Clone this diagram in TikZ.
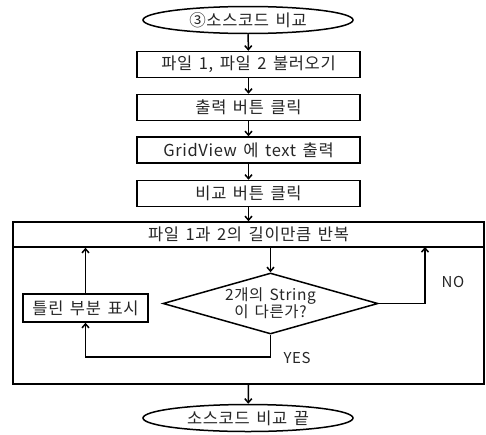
\documentclass[tikz,border=0pt]{standalone}
\usepackage{fontspec}
\setmainfont{Noto Sans CJK KR}[LetterSpace=4, WordSpace=1.5]
\usetikzlibrary{arrows.meta,shapes.geometric}
\begin{document}
\begin{tikzpicture}[x=1pt,y=-1pt,
  every node/.style={font=\fontsize{16.5}{19}\selectfont, text=black!85},
  proc/.style={draw=black, line width=1.5pt, minimum width=223pt, minimum height=26pt, inner sep=0pt},
  term/.style={draw=black, line width=1.5pt, ellipse, minimum width=210pt, minimum height=27pt, inner sep=0pt},
  arr/.style={draw=black, line width=1.5pt, -{Straight Barb[length=4pt,width=7pt,line width=1.5pt]}},
  lbl/.style={font=\fontsize{15}{18}\selectfont}
]
\useasboundingbox (0,0) rectangle (486,434);
\fill[white] (0,0) rectangle (486,434);

\node[term] (start) at (248,20) {③소스코드 비교};
\node[proc] (b1) at (248.5,64.5) {파일 1, 파일 2 불러오기};
\node[proc] (b2) at (248.5,107.5) {출력 버튼 클릭};
\node[proc] (b3) at (248.5,150) {GridView 에 text 출력};
\node[proc] (b4) at (248.5,193.5) {비교 버튼 클릭};

\node[draw=black, line width=1.5pt, minimum width=471pt, minimum height=162pt, inner sep=0pt] (loop) at (248.5,303) {};
\node[draw=black, line width=1.5pt, minimum width=471pt, minimum height=25pt, inner sep=0pt] (head) at (248.5,234.5) {파일 1과 2의 길이만큼 반복};

\node[draw=black, line width=1.5pt, diamond, shape aspect=3.5, minimum width=215pt, minimum height=61pt, inner sep=0pt, align=center, font=\fontsize{15.5}{17}\selectfont] (dia) at (270.5,303.5) {2개의 String\\이 다른가?};

\node[draw=black, line width=1.5pt, minimum width=125pt, minimum height=28pt, inner sep=0pt] (fix) at (85.5,308) {틀린 부분 표시};

\node[term] (end) at (248,418) {소스코드 비교 끝};

\draw[arr] (start) -- (b1);
\draw[arr] (b1) -- (b2);
\draw[arr] (b2) -- (b3);
\draw[arr] (b3) -- (b4);
\draw[arr] (b4) -- (loop.north);
\draw[arr] (loop.south) -- (end);
\draw[arr] (head.south -| dia.north) -- (dia.north);

\coordinate (noTop) at (425,247);
\draw[arr] (dia.east) -| (noTop);
\node[lbl] (no) at (453,282) {NO};

\coordinate (yesCorner) at (270.5,357);
\draw[arr] (dia.south) -- (yesCorner) -| (fix.south);
\node[lbl] (yes) at (297,358) {YES};

\draw[arr] (fix.north) -- (fix.north |- head.south);
\end{tikzpicture}
\end{document}
